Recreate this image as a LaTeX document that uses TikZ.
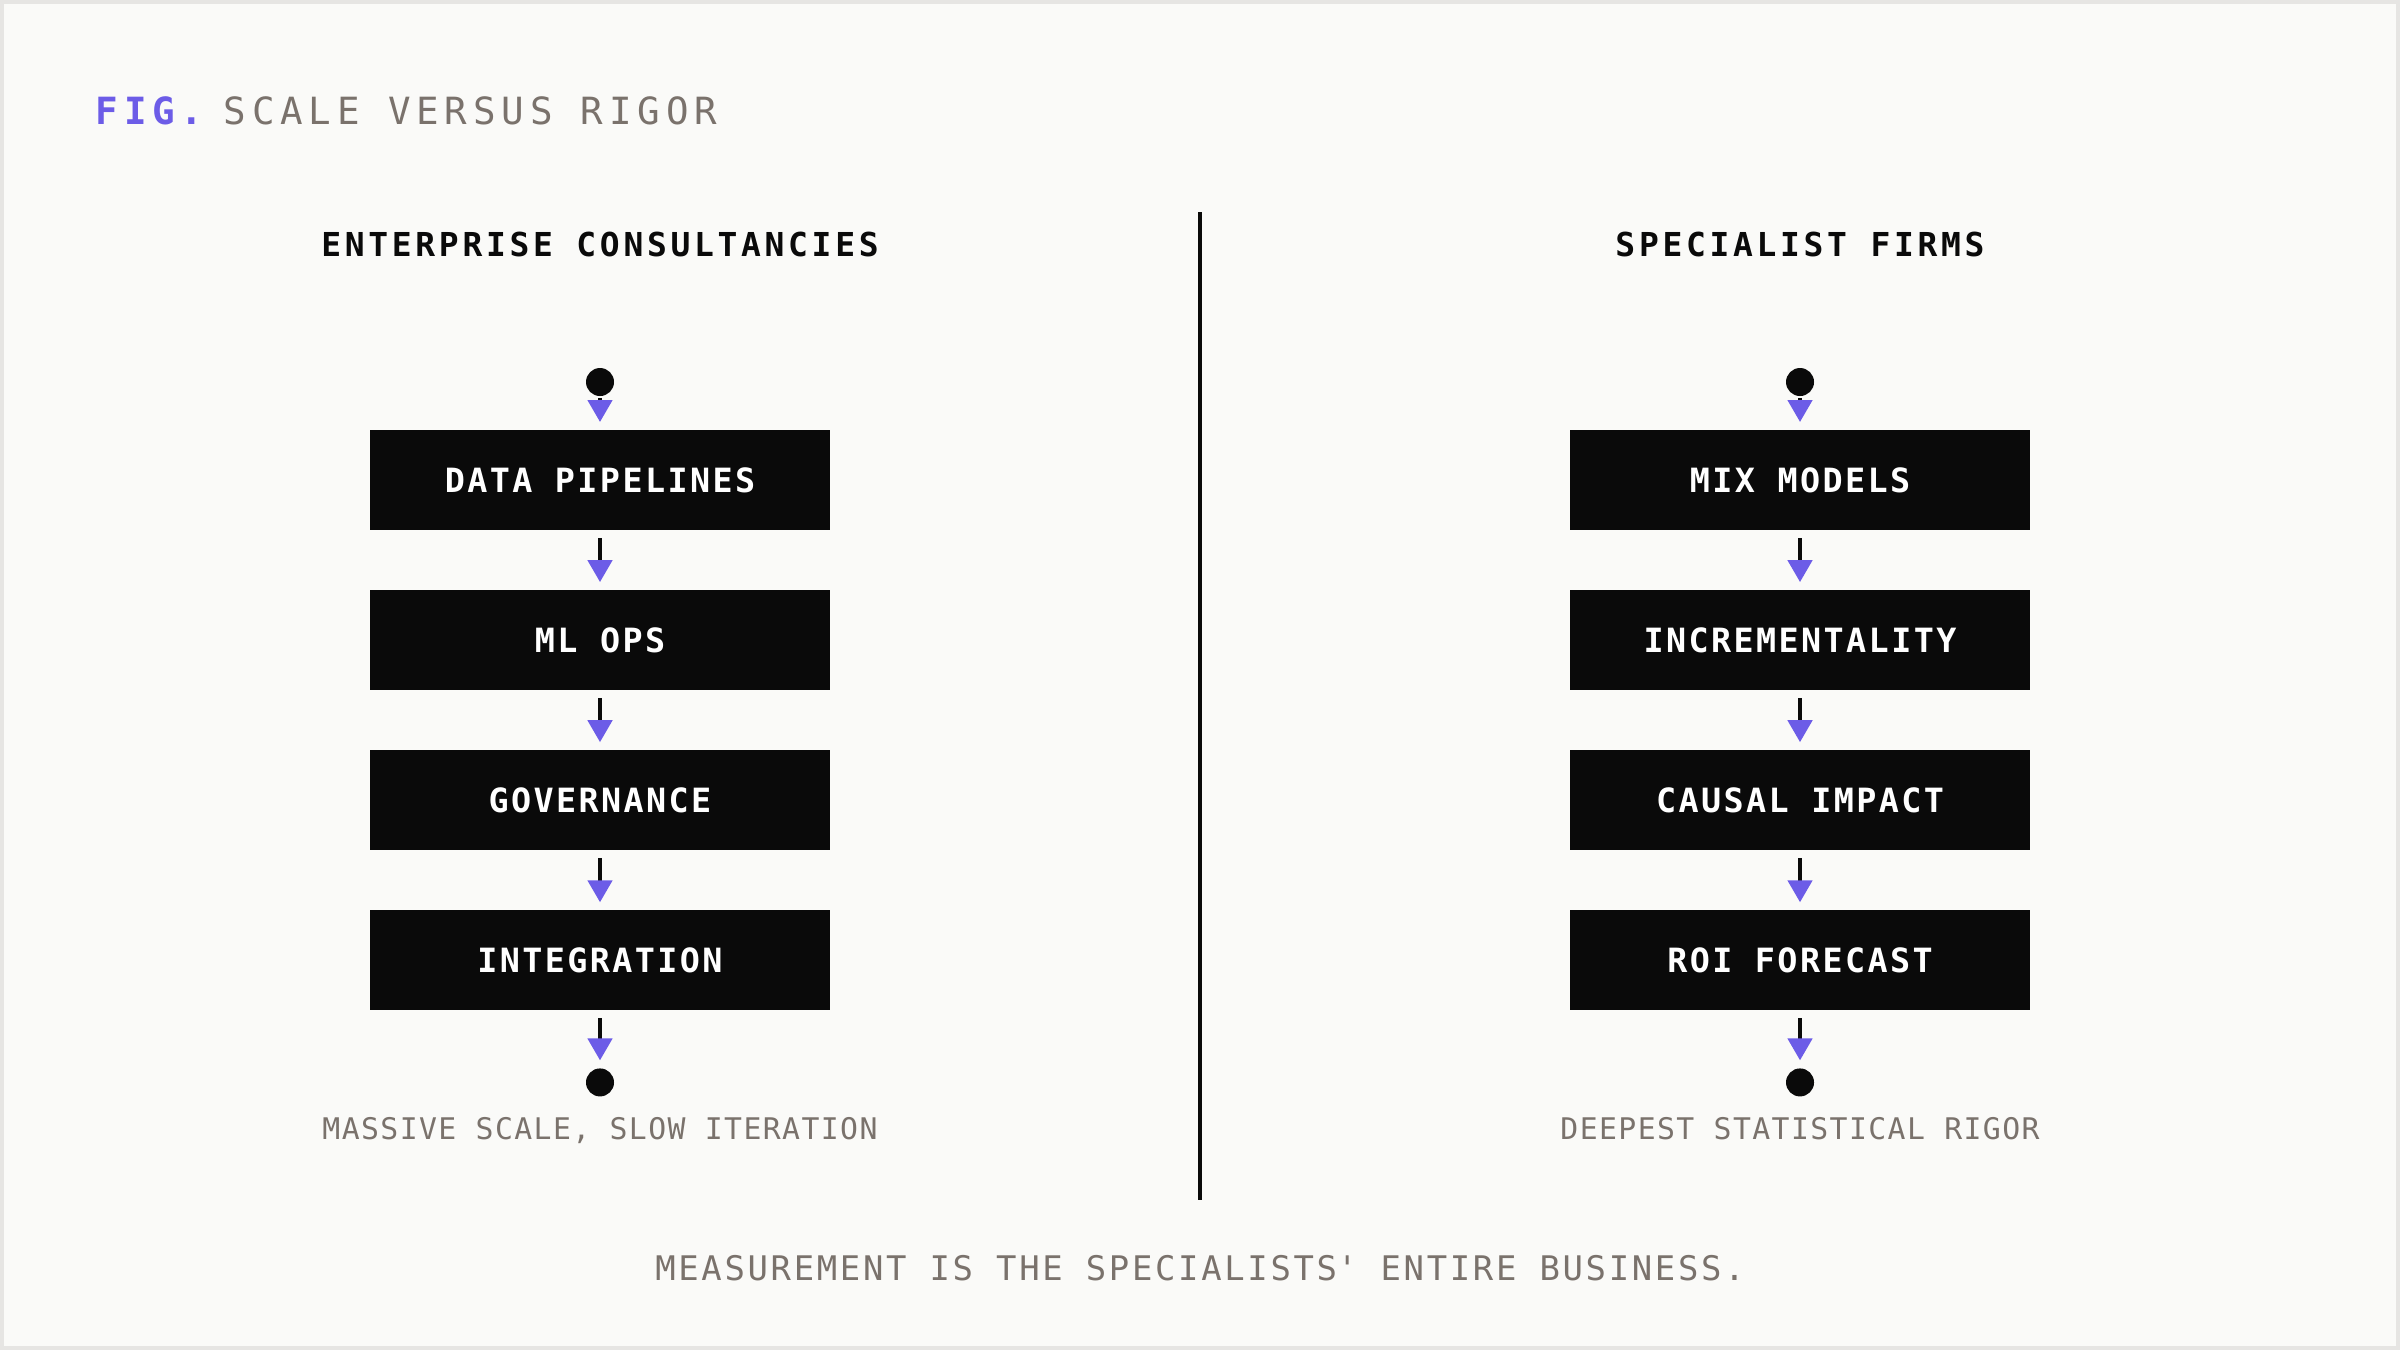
\documentclass[tikz,border=0pt]{standalone}
\usepackage{fontspec}
\usetikzlibrary{positioning,arrows.meta}

\definecolor{paper}{HTML}{FAFAF8}
\definecolor{frame}{HTML}{E6E5E3}
\definecolor{ink}{HTML}{0A0A0A}
\definecolor{accent}{HTML}{6C5CE7}
\definecolor{muted}{HTML}{7A726C}

\newfontfamily\titlefont[LetterSpace=15.5]{DejaVu Sans Mono}
\newfontfamily\headfont[LetterSpace=11.2]{DejaVu Sans Mono}
\newfontfamily\stagefont[LetterSpace=7.2]{DejaVu Sans Mono}
\newfontfamily\notefont[LetterSpace=4.7]{DejaVu Sans Mono}
\newfontfamily\footfont[LetterSpace=7.9]{DejaVu Sans Mono}

\tikzset{
    stage/.style={rectangle, fill=ink, text=white, minimum width=4.6cm, minimum height=1cm,
        inner sep=0pt, outer sep=0pt, font=\stagefont\bfseries\fontsize{9.5pt}{11pt}\selectfont},
    terminal/.style={circle, fill=ink, minimum size=0.28cm, inner sep=0pt, outer sep=0pt},
    heading/.style={anchor=base, inner sep=0pt, text=ink,
        font=\headfont\bfseries\fontsize{9.37pt}{11pt}\selectfont},
    caption/.style={anchor=base, inner sep=0pt, text=muted,
        font=\notefont\fontsize{8.47pt}{10pt}\selectfont},
    link/.style={draw=ink, line width=1.28pt,
        -{Triangle[length=0.22cm, width=0.24cm, color=accent]},
        shorten <=0.08cm, shorten >=0.08cm},
}

\begin{document}
\begin{tikzpicture}[node distance=0.6cm, x=0.01cm, y=-0.01cm, every edge/.style={link}]

    \fill[frame] (0,0) rectangle (2400,1350);
    \fill[paper] (4,4) rectangle (2396,1346);
    \useasboundingbox (0,0) rectangle (2400,1350);

    \node[anchor=base west, inner sep=0pt, text=accent,
        font=\titlefont\bfseries\fontsize{10.66pt}{12pt}\selectfont] (figtag) at (95,124) {FIG.};
    \node[anchor=base west, inner sep=0pt, text=muted,
        font=\titlefont\fontsize{10.66pt}{12pt}\selectfont] (figtitle) at (223,124) {SCALE VERSUS RIGOR};

    \node[heading] (enterprise) at (600,256) {ENTERPRISE CONSULTANCIES};
    \node[heading] (specialist) at (1800,256) {SPECIALIST FIRMS};

    \coordinate (divtop) at (1200,212);
    \coordinate (divbot) at (1200,1200);
    \draw[ink, line width=1.3pt] (divtop) -- (divbot);

    % enterprise column
    \node[terminal] (startL) at (600,382) {};
    \node[stage] (pipelines) [below = 0.34cm of startL] {DATA PIPELINES};
    \node[stage] (mlops) [below = of pipelines] {ML OPS};
    \node[stage] (governance) [below = of mlops] {GOVERNANCE};
    \node[stage] (integration) [below = of governance] {INTEGRATION};
    \node[terminal] (endL) [below = 0.58cm of integration] {};
    \node[caption] (scaleL) at (600,1139) {MASSIVE SCALE, SLOW ITERATION};

    \path (startL) edge[shorten <=0.02cm] (pipelines)
          (pipelines) edge (mlops)
          (mlops) edge (governance)
          (governance) edge (integration)
          (integration) edge (endL);

    % specialist column
    \node[terminal] (startR) at (1800,382) {};
    \node[stage] (mix) [below = 0.34cm of startR] {MIX MODELS};
    \node[stage] (increment) [below = of mix] {INCREMENTALITY};
    \node[stage] (causal) [below = of increment] {CAUSAL IMPACT};
    \node[stage] (roi) [below = of causal] {ROI FORECAST};
    \node[terminal] (endR) [below = 0.58cm of roi] {};
    \node[caption] (rigorR) at (1800,1139) {DEEPEST STATISTICAL RIGOR};

    \path (startR) edge[shorten <=0.02cm] (mix)
          (mix) edge (increment)
          (increment) edge (causal)
          (causal) edge (roi)
          (roi) edge (endR);

    \node[anchor=base, inner sep=0pt, text=muted,
        font=\footfont\fontsize{9.64pt}{11pt}\selectfont] (closing) at (1200,1280)
        {MEASUREMENT IS THE SPECIALISTS\textquotesingle{} ENTIRE BUSINESS.};

\end{tikzpicture}
\end{document}
